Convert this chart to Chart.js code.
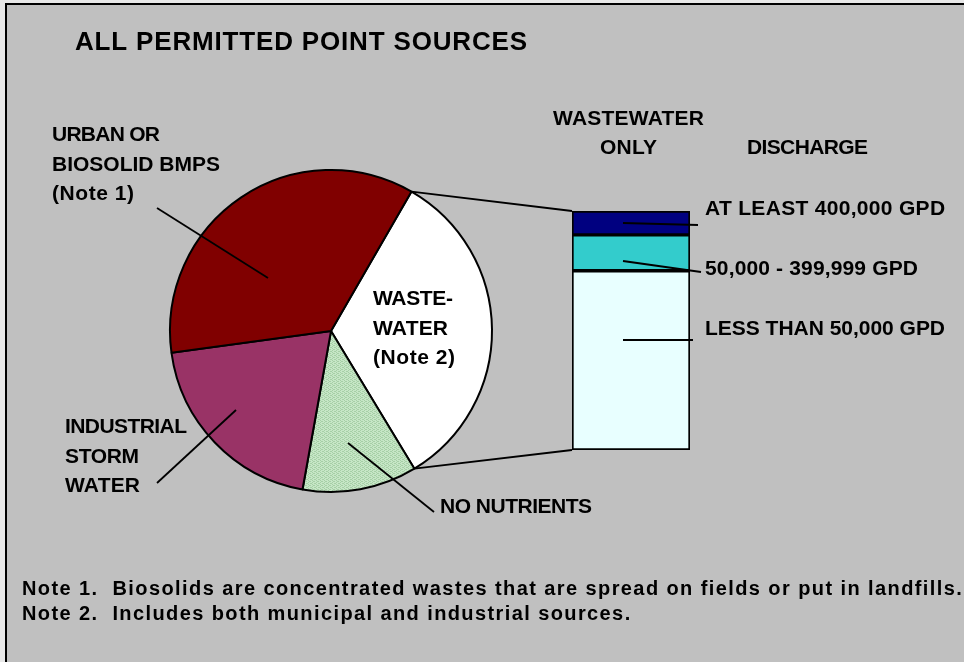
<!DOCTYPE html>
<html>
<head>
<meta charset="utf-8">
<script src="https://cdn.jsdelivr.net/npm/chart.js@4/dist/chart.umd.min.js"></script>
<style>
  html, body { margin: 0; padding: 0; background: #c0c0c0; }
  #wrap { position: relative; width: 964px; height: 662px; overflow: hidden; }
  #wrap canvas { position: absolute; left: 0; top: 0; }
</style>
</head>
<body>
<div id="wrap">
  <canvas id="pieChart" width="964" height="662"></canvas>
  <canvas id="barChart" width="964" height="662"></canvas>
</div>
<script>
// pie: share of all permitted point sources (clockwise from the wastewater slice)
const pieLabels = ["WASTEWATER", "NO NUTRIENTS", "INDUSTRIAL STORM WATER", "URBAN OR BIOSOLID BMPS"];
const pieValues = [33, 11.5, 20, 35.5];

// bar: wastewater only, split by discharge (bottom to top)
const barLabels = ["LESS THAN 50,000 GPD", "50,000 - 399,999 GPD", "AT LEAST 400,000 GPD"];
const barValues = [75, 15, 10];

const FONT = '"Liberation Sans", Arial, sans-serif';

function greenPattern() {
  const c = document.createElement("canvas");
  c.width = 4; c.height = 4;
  const g = c.getContext("2d");
  g.fillStyle = "#c6e6c6";
  g.fillRect(0, 0, 4, 4);
  g.fillStyle = "#a6cfa6";
  [[0, 0], [2, 1], [0, 2], [2, 3], [1, 1], [3, 3]].forEach(([x, y]) => g.fillRect(x, y, 1, 1));
  return g.createPattern(c, "repeat");
}

// bold text squeezed/stretched to the width it has in the picture
function fitText(ctx, s, x, y, w, size) {
  ctx.font = `bold ${size}px ${FONT}`;
  ctx.letterSpacing = "0px";
  const nat = ctx.measureText(s).width;
  const ls = s.length > 1 ? (w - nat) / (s.length - 1) : 0;
  ctx.letterSpacing = ls.toFixed(2) + "px";
  ctx.fillText(s, x, y);
  ctx.letterSpacing = "0px";
}

function line(ctx, x1, y1, x2, y2, w = 1.8) {
  ctx.beginPath();
  ctx.moveTo(x1, y1);
  ctx.lineTo(x2, y2);
  ctx.lineWidth = w;
  ctx.strokeStyle = "#000";
  ctx.stroke();
}

const backdrop = {
  id: "backdrop",
  beforeDraw(chart) {
    const ctx = chart.ctx;
    ctx.save();
    ctx.fillStyle = "#c0c0c0";
    ctx.fillRect(0, 0, chart.width, chart.height);
    ctx.fillStyle = "#e8e8e8";
    ctx.fillRect(0, 0, chart.width, 3);
    ctx.fillRect(0, 0, 5, chart.height);
    ctx.strokeStyle = "#000";
    ctx.lineWidth = 2;
    ctx.strokeRect(6, 4, chart.width + 20, chart.height + 20);
    ctx.restore();
  }
};

const pieChart = new Chart(document.getElementById("pieChart"), {
  type: "pie",
  data: {
    labels: pieLabels,
    datasets: [{
      data: pieValues,
      backgroundColor: ["#ffffff", greenPattern(), "#993366", "#800000"],
      borderColor: "#000",
      borderWidth: 2
    }]
  },
  options: {
    responsive: false,
    animation: false,
    devicePixelRatio: 1,
    rotation: 30,
    radius: 161,
    layout: { padding: { left: 0, right: 302, top: 0, bottom: 0 } },
    plugins: { legend: { display: false }, tooltip: { enabled: false } }
  },
  plugins: [backdrop]
});

const annotations = {
  id: "annotations",
  afterDraw(chart) {
    const ctx = chart.ctx;
    ctx.save();

    // connectors from the wastewater slice to the bar
    const arc = pieChart.getDatasetMeta(0).data[0];
    const r = arc.outerRadius;
    const p1 = [arc.x + r * Math.cos(arc.startAngle), arc.y + r * Math.sin(arc.startAngle)];
    const p2 = [arc.x + r * Math.cos(arc.endAngle), arc.y + r * Math.sin(arc.endAngle)];
    const topBar = chart.getDatasetMeta(2).data[0];
    const botBar = chart.getDatasetMeta(0).data[0];
    const left = topBar.x - topBar.width / 2;
    line(ctx, p1[0], p1[1], left, topBar.y);
    line(ctx, p2[0], p2[1], left, botBar.base);

    // leader lines
    line(ctx, 157, 208, 268, 278);
    line(ctx, 157, 483, 236, 410);
    line(ctx, 434, 512, 348, 443);
    line(ctx, 623, 223, 698, 225);
    line(ctx, 623, 261, 701, 272);
    line(ctx, 623, 340, 693, 340);

    ctx.fillStyle = "#000";
    ctx.textBaseline = "alphabetic";
    ctx.textAlign = "left";
    fitText(ctx, "ALL PERMITTED POINT SOURCES", 75, 50, 452, 26);

    fitText(ctx, "URBAN OR", 52, 141, 108, 21);
    fitText(ctx, "BIOSOLID BMPS", 52, 171, 168, 21);
    fitText(ctx, "(Note 1)", 52, 200, 82, 21);

    fitText(ctx, "INDUSTRIAL", 65, 433, 122, 21);
    fitText(ctx, "STORM", 65, 463, 74, 21);
    fitText(ctx, "WATER", 65, 492, 75, 21);

    fitText(ctx, "NO NUTRIENTS", 440, 513, 152, 21);

    fitText(ctx, "WASTE-", 373, 305, 80, 21);
    fitText(ctx, "WATER", 373, 335, 75, 21);
    fitText(ctx, "(Note 2)", 373, 364, 82, 21);

    fitText(ctx, "WASTEWATER", 553, 125, 151, 21);
    fitText(ctx, "ONLY", 600, 154, 57, 21);
    fitText(ctx, "DISCHARGE", 747, 154, 121, 21);

    fitText(ctx, barLabels[2], 705, 215, 240, 21);
    fitText(ctx, barLabels[1], 705, 275, 213, 21);
    fitText(ctx, barLabels[0], 705, 335, 240, 21);

    fitText(ctx, "Note 1.  Biosolids are concentrated wastes that are spread on fields or put in landfills.", 22, 595, 940, 20);
    fitText(ctx, "Note 2.  Includes both municipal and industrial sources.", 22, 620, 608, 20);

    ctx.restore();
  }
};

const barColors = ["#e8ffff", "#33cccc", "#000080"];

new Chart(document.getElementById("barChart"), {
  type: "bar",
  data: {
    labels: ["WASTEWATER ONLY"],
    datasets: barValues.map((v, i) => ({
      label: barLabels[i],
      data: [v],
      backgroundColor: barColors[i],
      borderColor: "#000",
      borderWidth: 2,
      borderSkipped: false,
      categoryPercentage: 1,
      barPercentage: 1
    }))
  },
  options: {
    responsive: false,
    animation: false,
    devicePixelRatio: 1,
    layout: { padding: { left: 572, right: 274, top: 211, bottom: 212 } },
    scales: {
      x: { stacked: true, display: false },
      y: { stacked: true, display: false, min: 0, max: 100 }
    },
    plugins: { legend: { display: false }, tooltip: { enabled: false } }
  },
  plugins: [annotations]
});
</script>
</body>
</html>
